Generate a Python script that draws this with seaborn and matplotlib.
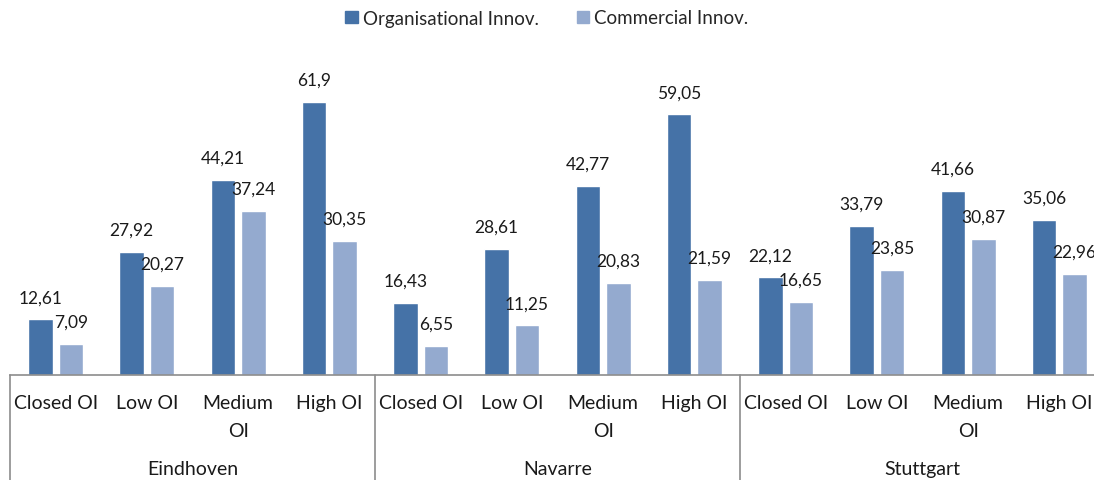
import matplotlib
matplotlib.use("Agg")
import matplotlib.pyplot as plt
from matplotlib import transforms
import seaborn as sns
import pandas as pd

# Innovation shares by region and open-innovation level
regions = ["Eindhoven", "Navarre", "Stuttgart"]
levels = ["Closed OI", "Low OI", "Medium\nOI", "High OI"]
series = ["Organisational Innov.", "Commercial Innov."]
organisational = [12.61, 27.92, 44.21, 61.9,
                  16.43, 28.61, 42.77, 59.05,
                  22.12, 33.79, 41.66, 35.06]
commercial = [7.09, 20.27, 37.24, 30.35,
              6.55, 11.25, 20.83, 21.59,
              16.65, 23.85, 30.87, 22.96]
colors = ["#4572A7", "#94AACF"]

sns.set_theme(style="white")
plt.rcParams["font.family"] = ["Lato", "DejaVu Sans"]

rows = []
keys = [f"{r}|{l}" for r in regions for l in levels]
for i, k in enumerate(keys):
    rows.append({"cat": k, "series": series[0], "value": organisational[i]})
    rows.append({"cat": k, "series": series[1], "value": commercial[i]})
df = pd.DataFrame(rows)

fig = plt.figure(figsize=(10.94, 4.81), dpi=100)
W, H = 1094, 481
ax_left, ax_right = 10, 1105
ax_bottom, ax_top = 376, 46
ax = fig.add_axes([ax_left / W, (H - ax_bottom) / H,
                   (ax_right - ax_left) / W, (ax_bottom - ax_top) / H])

sns.barplot(data=df, x="cat", y="value", hue="series", order=keys,
            hue_order=series, palette=colors, width=0.668, gap=0.19,
            saturation=1, ax=ax, legend=False)

ax.set_xlim(-0.5, len(keys) - 0.5)
ax.set_ylim(0, 74.8)
ax.set_xlabel("")
ax.set_ylabel("")
ax.set_yticks([])
for s in ["left", "right", "top"]:
    ax.spines[s].set_visible(False)
ax.spines["bottom"].set_color("#8c8c8c")
ax.spines["bottom"].set_linewidth(1.2)

ax.set_xticks(range(len(keys)))
ax.set_xticklabels(levels * len(regions), fontsize=14, color="#1a1a1a",
                   linespacing=1.75)
ax.tick_params(axis="x", length=0, pad=14)

# value labels above each bar
for cont in ax.containers:
    for bar in cont:
        v = bar.get_height()
        txt = f"{v:g}".replace(".", ",")
        ax.annotate(txt, (bar.get_x() + bar.get_width() / 2, v),
                    xytext=(0, 16), textcoords="offset points",
                    ha="center", va="center", fontsize=12.5, color="#1a1a1a")

# region separators and labels below the axis
trans = transforms.blended_transform_factory(ax.transData, ax.transAxes)
ybot = -(H - ax_bottom) / (ax_bottom - ax_top)
for g in range(len(regions) + 1):
    x = g * len(levels) - 0.5
    ax.plot([x, x], [0, ybot], transform=trans, color="#8c8c8c",
            lw=1.2, clip_on=False)
for g, r in enumerate(regions):
    x = g * len(levels) + (len(levels) - 1) / 2
    ax.text(x, -(470 - ax_bottom) / (ax_bottom - ax_top), r, transform=trans,
            ha="center", va="center", fontsize=14, color="#1a1a1a")

handles = [plt.Rectangle((0, 0), 1, 1, color=c) for c in colors]
fig.legend(handles, series, loc="center", bbox_to_anchor=(0.5, 1 - 19 / H),
           ncol=2, frameon=False, fontsize=13.5, handlelength=0.65,
           handleheight=0.65, handletextpad=0.3, columnspacing=2.0)

fig.savefig("out.png", dpi=100)
